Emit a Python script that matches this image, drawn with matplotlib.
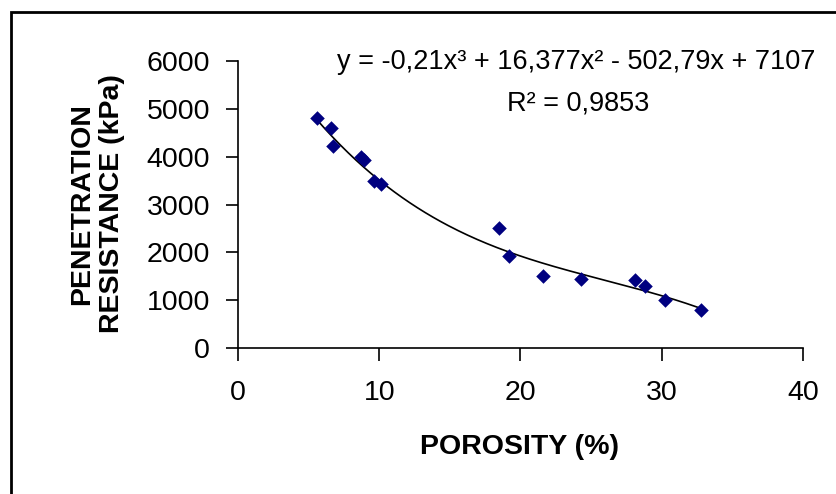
import numpy as np
import matplotlib
matplotlib.use("Agg")
import matplotlib.pyplot as plt
from matplotlib.patches import Rectangle

plt.rcParams['font.family'] = ['Liberation Sans', 'DejaVu Sans']

porosity = [5.6, 6.6, 6.7, 8.7, 8.9, 9.6, 10.1, 18.5, 19.2, 21.6, 24.3, 28.1, 28.8, 30.2, 32.8]
resistance = [4800, 4600, 4220, 4000, 3930, 3500, 3420, 2500, 1920, 1500, 1450, 1420, 1300, 1000, 800]
coeffs = [-0.21, 16.377, -502.79, 7107]
equation = "y = -0,21x\u00b3 + 16,377x\u00b2 - 502,79x + 7107"
r2_text = "R\u00b2 = 0,9853"
xticks = [0, 10, 20, 30, 40]
yticks = [0, 1000, 2000, 3000, 4000, 5000, 6000]

fig = plt.figure(figsize=(8.37, 4.94), dpi=100)
ax = fig.add_axes([238/837, 1-348/494, (803-238)/837, (348-61)/494])

xs = np.linspace(min(porosity), max(porosity), 200)
ax.plot(xs, np.polyval(coeffs, xs), color='black', lw=1.2, zorder=2)
ax.scatter(porosity, resistance, marker='D', s=55, color='#000080', zorder=3, linewidths=0)

ax.set_xlim(0, 40)
ax.set_ylim(0, 6000)
ax.set_xticks(xticks)
ax.set_yticks(yticks)
for s in ['top', 'right']:
    ax.spines[s].set_visible(False)
for s in ['left', 'bottom']:
    ax.spines[s].set_linewidth(1.2)
ax.tick_params(direction='out', length=9, width=1.2, labelsize=20.5, pad=11)
ax.tick_params(axis='x', pad=14)

fig.text(520/837, 1-447/494, "POROSITY (%)", fontsize=20.5, fontweight='bold', ha='center', va='center')
fig.text(97/837, 1-204/494, "PENETRATION\nRESISTANCE (kPa)", fontsize=20.5, fontweight='bold',
         ha='center', va='center', rotation=90, linespacing=1.2)

fig.text(576/837, 1-62/494, equation, fontsize=19.5, ha='center', va='center')
fig.text(578/837, 1-104/494, r2_text, fontsize=19.5, ha='center', va='center')

fig.patches.append(Rectangle((11/837, -0.1), 1.2, 1-12/494+0.1, transform=fig.transFigure,
                             fill=False, edgecolor='black', lw=2, clip_on=False))

fig.savefig("out.png", dpi=100)
